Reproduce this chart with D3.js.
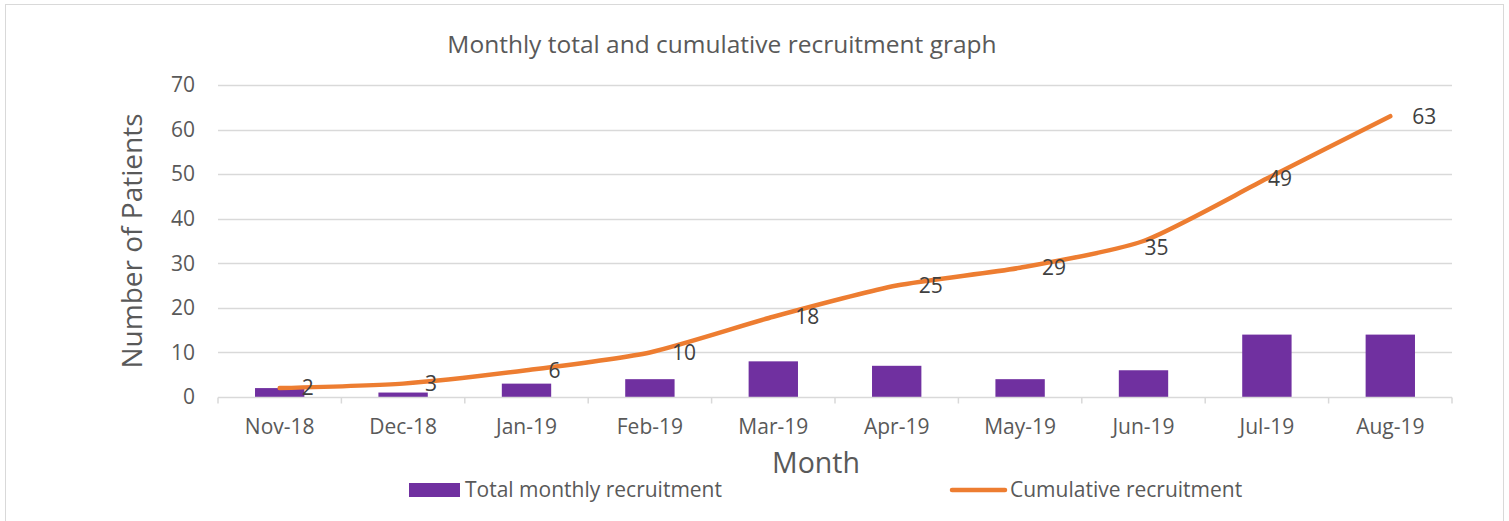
<!DOCTYPE html>
<html>
<head>
<meta charset="utf-8">
<script src="https://cdn.jsdelivr.net/npm/d3@7"></script>
<style>
  body { margin: 0; background: #fff; }
  text { font-family: 'Open Sans', sans-serif; fill: #595959; }
</style>
</head>
<body>
<div id="chart"></div>
<script>
const months = ['Nov-18', 'Dec-18', 'Jan-19', 'Feb-19', 'Mar-19', 'Apr-19', 'May-19', 'Jun-19', 'Jul-19', 'Aug-19']
const monthly = [2, 1, 3, 4, 8, 7, 4, 6, 14, 14]
const cumulative = [2, 3, 6, 10, 18, 25, 29, 35, 49, 63]
const yTicks = [0, 10, 20, 30, 40, 50, 60, 70]

// labels that sit on the point instead of to its right
const labelOnPoint = ['Jun-19', 'Jul-19']

const width = 1509
const height = 521
const margin = { left: 218, right: 57, top: 85, bottom: 124 }

const svg = d3.select('#chart').append('svg')
  .attr('width', width)
  .attr('height', height)

svg.append('rect')
  .attr('x', 5.5).attr('y', 4.5)
  .attr('width', 1498).attr('height', 520)
  .attr('fill', '#fff')
  .attr('stroke', '#d9d9d9')

const x = d3.scaleBand()
  .domain(months)
  .range([margin.left, width - margin.right])
  .paddingInner(0.6)
  .paddingOuter(0.3)

const y = d3.scaleLinear()
  .domain([0, 70])
  .range([height - margin.bottom, margin.top])

// gridlines
svg.append('g')
  .selectAll('line')
  .data(yTicks.slice(1))
  .join('line')
  .attr('x1', margin.left)
  .attr('x2', width - margin.right)
  .attr('y1', d => Math.round(y(d)) + 0.5)
  .attr('y2', d => Math.round(y(d)) + 0.5)
  .attr('stroke', '#d9d9d9')
  .attr('stroke-width', 1.5)

// y labels
svg.append('g')
  .selectAll('text')
  .data(yTicks)
  .join('text')
  .attr('x', margin.left - 23)
  .attr('y', d => y(d))
  .attr('dy', '0.35em')
  .attr('text-anchor', 'end')
  .attr('font-size', 21)
  .text(d => d)

// bars
svg.append('g')
  .selectAll('rect')
  .data(months)
  .join('rect')
  .attr('x', d => x(d))
  .attr('width', x.bandwidth())
  .attr('y', (d, i) => y(monthly[i]))
  .attr('height', (d, i) => y(0) - y(monthly[i]))
  .attr('fill', '#7030a0')

// x axis
const step = x.step()
const axisY = Math.round(y(0)) + 0.5
svg.append('line')
  .attr('x1', margin.left).attr('x2', width - margin.right)
  .attr('y1', axisY).attr('y2', axisY)
  .attr('stroke', '#d9d9d9').attr('stroke-width', 1.5)

svg.append('g')
  .selectAll('line')
  .data(d3.range(months.length + 1))
  .join('line')
  .attr('x1', i => margin.left + i * step)
  .attr('x2', i => margin.left + i * step)
  .attr('y1', axisY)
  .attr('y2', axisY + 6)
  .attr('stroke', '#d9d9d9').attr('stroke-width', 1.5)

svg.append('g')
  .selectAll('text')
  .data(months)
  .join('text')
  .attr('x', d => x(d) + x.bandwidth() / 2)
  .attr('y', 427)
  .attr('dy', '0.35em')
  .attr('text-anchor', 'middle')
  .attr('font-size', 21)
  .text(d => d)

// cumulative line
const cx = d => x(d) + x.bandwidth() / 2
const line = d3.line()
  .x(d => cx(d))
  .y((d, i) => y(cumulative[i]))
  .curve(d3.curveCardinal.tension(0.35))

svg.append('path')
  .datum(months)
  .attr('d', line)
  .attr('fill', 'none')
  .attr('stroke', '#ed7d31')
  .attr('stroke-width', 4.5)
  .attr('stroke-linecap', 'round')

svg.append('g')
  .selectAll('text')
  .data(months)
  .join('text')
  .attr('x', d => cx(d) + (labelOnPoint.includes(d) ? 1 : 22))
  .attr('y', (d, i) => y(cumulative[i]) + (d === 'Jun-19' ? 7 : 0))
  .attr('dy', '0.35em')
  .attr('font-size', 21)
  .style('fill', '#404040')
  .text((d, i) => cumulative[i])

// titles
svg.append('text')
  .attr('x', 722).attr('y', 44)
  .attr('dy', '0.35em')
  .attr('text-anchor', 'middle')
  .attr('font-size', 24.5)
  .text('Monthly total and cumulative recruitment graph')

svg.append('text')
  .attr('transform', `translate(132,${241}) rotate(-90)`)
  .attr('dy', '0.35em')
  .attr('text-anchor', 'middle')
  .attr('font-size', 28)
  .text('Number of Patients')

svg.append('text')
  .attr('x', 816).attr('y', 463)
  .attr('dy', '0.35em')
  .attr('text-anchor', 'middle')
  .attr('font-size', 28.5)
  .text('Month')

// legend
const legend = svg.append('g')
legend.append('rect')
  .attr('x', 409).attr('y', 483)
  .attr('width', 51).attr('height', 14)
  .attr('fill', '#7030a0')
legend.append('text')
  .attr('x', 465).attr('y', 490)
  .attr('dy', '0.35em')
  .attr('font-size', 21)
  .text('Total monthly recruitment')

legend.append('line')
  .attr('x1', 952).attr('x2', 1005)
  .attr('y1', 490).attr('y2', 490)
  .attr('stroke', '#ed7d31')
  .attr('stroke-width', 4.5)
  .attr('stroke-linecap', 'round')
legend.append('text')
  .attr('x', 1010).attr('y', 490)
  .attr('dy', '0.35em')
  .attr('font-size', 21)
  .text('Cumulative recruitment')
</script>
</body>
</html>
